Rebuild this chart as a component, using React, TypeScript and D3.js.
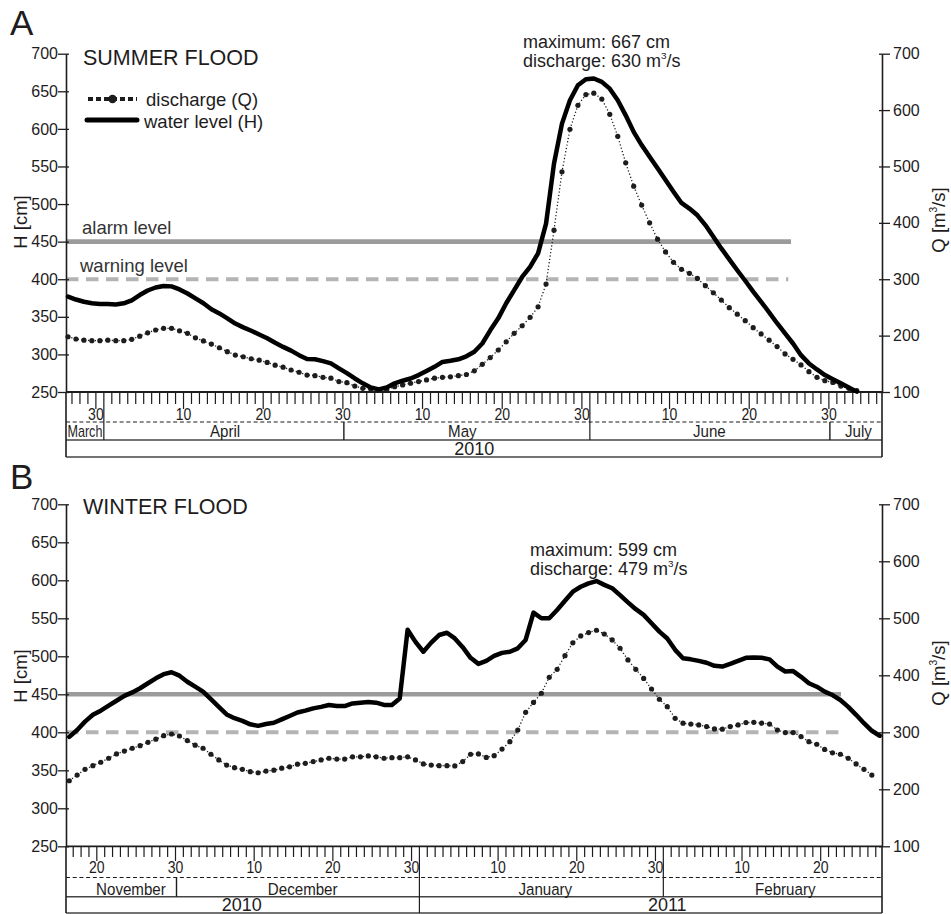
import React, { useEffect, useRef } from "react";
import * as d3 from "d3";

// Daily values. First value sits at noon of the start day.
const startA = Date.UTC(2010, 2, 26, 12);
const levelA = [
  377, 373, 370, 368, 367, 367, 366.5, 368, 372, 379,
  385, 389, 391, 390.5, 386.5, 381, 374.5, 368, 360, 354.5,
  348, 341, 336, 331.5, 326.5, 321.5, 315.5, 310, 305, 299,
  294, 293.5, 291, 288, 281.5, 275, 268, 261.5, 256, 253.5,
  256, 261.5, 265, 268, 272.5, 278, 283.5, 290, 291.5, 293.5,
  297.5, 303.5, 314.5, 332, 348, 368, 385.5, 403, 416.5, 434.5,
  474, 554, 607, 638, 658, 666, 667, 662.5, 653.5, 638,
  618, 596, 578.5, 563, 547.5, 532, 516.5, 501.5, 494, 485,
  472, 456.5, 441, 426.5, 412, 398, 383.5, 370, 356, 341.5,
  328, 314.5, 299, 288, 280, 272.5, 267, 261.5, 256, 250.5,
];
const flowA = [
  198, 194, 192, 191, 191, 192, 191, 191, 193.5, 199,
  205, 210, 213, 213, 208.5, 204, 196, 190.5, 185, 178.5,
  171.5, 165.5, 162.5, 159, 156.5, 152.5, 147.5, 144, 139, 135,
  130, 129, 126, 124.5, 118.5, 116.5, 110.5, 106.5, 105.5, 103.5,
  103.5, 109.5, 112.5, 115.5, 118.5, 121.5, 124.5, 126, 127, 129,
  131, 137.5, 149, 161, 174.5, 189, 204, 217.5, 232.5, 251,
  291.5, 387, 490.5, 566, 608.5, 627.5, 630, 619.5, 592.5, 553.5,
  506.5, 465, 431.5, 400, 371, 348.5, 330, 317.5, 310.5, 301.5,
  288.5, 276, 263, 249.5, 238, 226.5, 214, 203, 192, 180.5,
  167.5, 158, 148, 136, 126, 120, 117, 110.5, 106.5, 102.5,
];

const startB = Date.UTC(2010, 10, 16, 12);
const levelB = [
  394, 403, 414, 423, 428.5, 435, 441.5, 448, 452.5, 458,
  464.5, 471, 476.5, 479, 474.5, 466.5, 460, 453.5, 443.5, 433.5,
  423.5, 418.5, 415, 410.5, 408.5, 411, 412.5, 417, 421.5, 426,
  428.5, 431.5, 433.5, 436, 434.5, 434.5, 438, 439, 440, 439,
  436, 436, 444.5, 535, 519, 506, 518, 528, 531, 523.5,
  512, 498, 490, 494, 500.5, 504.5, 506, 510.5, 521.5, 557.5,
  550, 550, 561, 573, 585, 591.5, 596, 599, 594, 589.5,
  580.5, 571, 562, 554.5, 543.5, 532.5, 523.5, 508.5, 497.5, 496,
  494, 491.5, 487.5, 486.5, 490, 494, 498, 498.5, 498, 496,
  486.5, 480, 480.5, 473, 464.5, 460, 453.5, 449, 442.5, 433.5,
  423, 412, 402, 395.5,
];
const flowB = [
  215, 225, 235, 241.5, 247.5, 254.5, 262, 267, 272, 276.5,
  282.5, 288, 294, 297, 293.5, 285.5, 277.5, 272, 261.5, 251.5,
  242.5, 238, 235, 231, 229, 232, 233.5, 237, 239.5, 244,
  245.5, 248.5, 251.5, 254.5, 253, 253, 257, 257, 258.5, 257,
  254.5, 255.5, 255.5, 257, 251.5, 244.5, 242.5, 241.5, 241.5, 241,
  248.5, 261.5, 262, 256, 259, 270.5, 283.5, 304, 335, 352.5,
  368.5, 396.5, 410.5, 434.5, 457, 469, 475, 479, 472.5, 462,
  447.5, 427, 410.5, 394.5, 376, 358, 345, 324.5, 316, 314.5,
  313, 310, 306, 305.5, 310, 313, 317, 317.5, 316, 314.5,
  304, 299.5, 299.5, 292.5, 283.5, 279, 270, 264, 261.5, 254.5,
  244.5, 235, 225,
];

const hTicks = [250, 300, 350, 400, 450, 500, 550, 600, 650, 700];
const qTicks = [100, 200, 300, 400, 500, 600, 700];
const alarmLevel = 450;
const warningLevel = 400;

const monthsA: [string, number][] = [
  ["March", Date.UTC(2010, 2, 28, 15)],
  ["April", Date.UTC(2010, 3, 15, 5)],
  ["May", Date.UTC(2010, 4, 15)],
  ["June", Date.UTC(2010, 5, 15)],
  ["July", Date.UTC(2010, 6, 3, 17)],
];
const yearsA: [string, number][] = [["2010", Date.UTC(2010, 4, 16, 12)]];
const monthsB: [string, number][] = [
  ["November", Date.UTC(2010, 10, 24, 8)],
  ["December", Date.UTC(2010, 11, 16, 4)],
  ["January", Date.UTC(2011, 0, 16)],
  ["February", Date.UTC(2011, 1, 15, 12)],
];
const yearsB: [string, number][] = [
  ["2010", Date.UTC(2010, 11, 8, 10)],
  ["2011", Date.UTC(2011, 0, 31, 12)],
];

const DAY = 86400000;
const FONT = "'Liberation Sans', Arial, Helvetica, sans-serif";
const INK = "#1e1c1d";
const LEFT = 66;
const RIGHT = 882;

const panels = [
  {
    letter: "A", title: "SUMMER FLOOD", letterY: 35, titleY: 65,
    domain: [Date.UTC(2010, 2, 26, 6), Date.UTC(2010, 6, 6, 16)],
    start: startA, level: levelA, flow: flowA, months: monthsA, years: yearsA,
    top: 53.7, base: 392,
    rows: { tick: 404, long: 409, day: 420, dash: 422, month: 437, solid: 440, year: 455, bottom: 457 },
    alarmEnd: Date.UTC(2010, 5, 25, 6), warnEnd: Date.UTC(2010, 5, 24, 22),
    note: { x: 523, y: 48, max: "667", q: "630" },
    legend: true, hLabelY: 222, qLabelY: 220,
  },
  {
    letter: "B", title: "WINTER FLOOD", letterY: 489, titleY: 514,
    domain: [Date.UTC(2010, 10, 16, 2), Date.UTC(2011, 1, 27, 19)],
    start: startB, level: levelB, flow: flowB, months: monthsB, years: yearsB,
    top: 504.3, base: 846.3,
    rows: { tick: 857, long: 861, day: 873, dash: 877.5, month: 894.5, solid: 896.7, year: 910.5, bottom: 913 },
    alarmEnd: Date.UTC(2011, 1, 22, 14), warnEnd: Date.UTC(2011, 1, 22, 6),
    note: { x: 530, y: 556, max: "599", q: "479" },
    legend: false, hLabelY: 676, qLabelY: 673,
  },
];

// writes "before" + superscript 3 + "after" into a text element
function withCube(t: any, before: string, after: string, size: number) {
  t.append("tspan").text(before);
  t.append("tspan").attr("font-size", size * 0.55).attr("dy", -size * 0.42).text("3");
  t.append("tspan").attr("font-size", size).attr("dy", size * 0.42).text(after);
}

function drawPanel(svg: any, p: any) {
  const x = d3.scaleUtc().domain(p.domain.map((t: number) => new Date(t))).range([LEFT, RIGHT]);
  const yH = d3.scaleLinear().domain([250, 700]).range([p.base, p.top]);
  const yQ = d3.scaleLinear().domain([100, 700]).range([p.base, p.top]);
  const r = p.rows;
  const g = svg.append("g");

  // alarm / warning levels
  g.append("line")
    .attr("x1", LEFT).attr("x2", x(new Date(p.alarmEnd)))
    .attr("y1", yH(alarmLevel)).attr("y2", yH(alarmLevel))
    .attr("stroke", "#9b9b9b").attr("stroke-width", 4.6);
  g.append("line")
    .attr("x1", LEFT).attr("x2", x(new Date(p.warnEnd)))
    .attr("y1", yH(warningLevel)).attr("y2", yH(warningLevel))
    .attr("stroke", "#b4b4b4").attr("stroke-width", 4)
    .attr("stroke-dasharray", "12.5 7.5");

  if (p.legend) {
    g.append("text").attr("x", 82).attr("y", 234).attr("font-size", 18.5).attr("fill", "#333").text("alarm level");
    g.append("text").attr("x", 80).attr("y", 272).attr("font-size", 18.5).attr("fill", "#333").text("warning level");
  }

  // letter and title
  g.append("text").attr("x", 10).attr("y", p.letterY).attr("font-size", 35).text(p.letter);
  g.append("text").attr("x", 83).attr("y", p.titleY).attr("font-size", 21.5).text(p.title);

  // left axis (H)
  const axL = g.append("g").attr("transform", `translate(${LEFT},0)`)
    .call(d3.axisLeft(yH).tickValues(hTicks).tickSizeInner(8).tickSizeOuter(0).tickPadding(0));
  axL.attr("font-family", FONT).attr("font-size", 16).attr("color", INK);
  axL.selectAll(".tick line").attr("x1", 3).attr("stroke-width", 1.3);
  axL.select(".domain").attr("stroke-width", 1.6);

  // right axis (Q)
  const axR = g.append("g").attr("transform", `translate(${RIGHT},0)`)
    .call(d3.axisRight(yQ).tickValues(qTicks).tickSizeInner(8).tickSizeOuter(0).tickPadding(3));
  axR.attr("font-family", FONT).attr("font-size", 16).attr("color", INK);
  axR.selectAll(".tick line").attr("x1", -3).attr("stroke-width", 1.3);
  axR.select(".domain").attr("stroke-width", 1.6);

  // axis titles
  g.append("text").attr("transform", `translate(27,${p.hLabelY}) rotate(-90)`)
    .attr("text-anchor", "middle").attr("font-size", 18.5).text("H [cm]");
  const qt = g.append("text").attr("transform", `translate(945,${p.qLabelY}) rotate(-90)`)
    .attr("text-anchor", "middle").attr("font-size", 18.5);
  withCube(qt, "Q [m", "/s]", 18.5);

  // date box
  const box = g.append("g").attr("stroke", INK);
  box.append("line").attr("x1", LEFT).attr("x2", RIGHT).attr("y1", p.base).attr("y2", p.base).attr("stroke-width", 1.8);
  box.append("line").attr("x1", LEFT).attr("x2", RIGHT).attr("y1", r.dash).attr("y2", r.dash)
    .attr("stroke-width", 1).attr("stroke-dasharray", "4 2.7");
  box.append("line").attr("x1", LEFT).attr("x2", RIGHT).attr("y1", r.solid).attr("y2", r.solid).attr("stroke-width", 1.4).attr("stroke", "#444");
  box.append("line").attr("x1", LEFT).attr("x2", RIGHT).attr("y1", r.bottom).attr("y2", r.bottom).attr("stroke-width", 1.4).attr("stroke", "#444");
  box.append("line").attr("x1", LEFT).attr("x2", LEFT).attr("y1", p.base).attr("y2", r.bottom).attr("stroke-width", 1.6);
  box.append("line").attr("x1", RIGHT).attr("x2", RIGHT).attr("y1", p.base).attr("y2", r.bottom).attr("stroke-width", 1.6);

  const d0 = new Date(p.domain[0]);
  const d1 = new Date(p.domain[1]);
  const days = d3.utcDay.range(d3.utcDay.ceil(d0), d1);
  days.forEach((d) => {
    const xd = x(d);
    const dd = d.getUTCDate();
    const next = d3.utcDay.offset(d, 1);
    const monthEnd = next.getUTCMonth() !== d.getUTCMonth();
    const yearEnd = monthEnd && d.getUTCMonth() === 11;
    const labelled = dd % 10 === 0 && dd <= 30;
    let y2 = r.tick;
    if (labelled) y2 = r.long;
    if (monthEnd && !labelled) y2 = yearEnd ? r.bottom : r.solid;
    box.append("line").attr("x1", xd).attr("x2", xd).attr("y1", p.base).attr("y2", y2).attr("stroke-width", 1.2);
    if (monthEnd && labelled) {
      box.append("line").attr("x1", xd + 1).attr("x2", xd + 1).attr("y1", r.dash).attr("y2", r.solid).attr("stroke-width", 1.4);
    }
    if (labelled) {
      g.append("text").attr("transform", `translate(${xd},${r.day}) scale(0.85,1)`)
        .attr("text-anchor", "middle").attr("font-size", 16.5).text(String(dd));
    }
  });

  // month names, squeezed into their cell when needed
  p.months.forEach(([name, at]: [string, number]) => {
    const m0 = d3.utcMonth.floor(new Date(at));
    const m1 = d3.utcMonth.offset(m0, 1);
    const xa = Math.max(LEFT, x(d3.utcDay.offset(m0, -1)));
    const xb = Math.min(RIGHT, x(d3.utcDay.offset(m1, -1)));
    const t = g.append("text").attr("text-anchor", "middle").attr("font-size", 16.8).text(name);
    const w = (t.node() as SVGTextElement).getComputedTextLength();
    const sx = Math.min(0.9, (xb - xa - 3) / w);
    t.attr("transform", `translate(${x(new Date(at))},${r.month}) scale(${sx},1)`);
  });
  p.years.forEach(([name, at]: [string, number]) => {
    g.append("text").attr("x", x(new Date(at))).attr("y", r.year)
      .attr("text-anchor", "middle").attr("font-size", 18).text(name);
  });

  // series
  const hPts = p.level.map((v: number, i: number) => [p.start + i * DAY, v]);
  const qPts = p.flow.map((v: number, i: number) => [p.start + i * DAY, v]);
  const lineH = d3.line<number[]>().x((d) => x(new Date(d[0]))).y((d) => yH(d[1]));
  const lineQ = d3.line<number[]>().x((d) => x(new Date(d[0]))).y((d) => yQ(d[1]));

  g.append("path").datum(qPts).attr("d", lineQ).attr("fill", "none")
    .attr("stroke", INK).attr("stroke-width", 1.3).attr("stroke-dasharray", "1.2 2.2");
  g.append("g").selectAll("circle").data(qPts).join("circle")
    .attr("cx", (d: number[]) => x(new Date(d[0])))
    .attr("cy", (d: number[]) => yQ(d[1]))
    .attr("r", 2.6).attr("fill", INK);
  g.append("path").datum(hPts).attr("d", lineH).attr("fill", "none")
    .attr("stroke", "#000").attr("stroke-width", 4.5)
    .attr("stroke-linejoin", "round").attr("stroke-linecap", "round");

  // peak note
  g.append("text").attr("x", p.note.x).attr("y", p.note.y).attr("font-size", 18)
    .text(`maximum: ${p.note.max} cm`);
  const nt = g.append("text").attr("x", p.note.x).attr("y", p.note.y + 19).attr("font-size", 18);
  withCube(nt, `discharge: ${p.note.q} m`, "/s", 18);

  if (p.legend) {
    g.append("line").attr("x1", 88).attr("x2", 137).attr("y1", 99).attr("y2", 99)
      .attr("stroke", INK).attr("stroke-width", 4).attr("stroke-dasharray", "5 3");
    g.append("circle").attr("cx", 112.5).attr("cy", 99).attr("r", 4.2).attr("fill", INK);
    g.append("line").attr("x1", 87).attr("x2", 137).attr("y1", 120).attr("y2", 120)
      .attr("stroke", "#000").attr("stroke-width", 5).attr("stroke-linecap", "round");
    g.append("text").attr("x", 146).attr("y", 105.5).attr("font-size", 18.5).text("discharge (Q)");
    g.append("text").attr("x", 144).attr("y", 127.5).attr("font-size", 18.5).text("water level (H)");
  }
}

const App = () => {
  const chartRef = useRef<SVGSVGElement>(null);

  useEffect(() => {
    const svg = d3.select(chartRef.current);
    svg.selectAll("*").remove();
    svg.attr("font-family", FONT).attr("fill", INK);
    panels.forEach((p) => drawPanel(svg, p));
  }, []);

  return (
    <svg
      ref={chartRef}
      width={951}
      height={914}
      style={{ position: "absolute", left: 0, top: 0, background: "#fff" }}
    />
  );
};

export default App;
